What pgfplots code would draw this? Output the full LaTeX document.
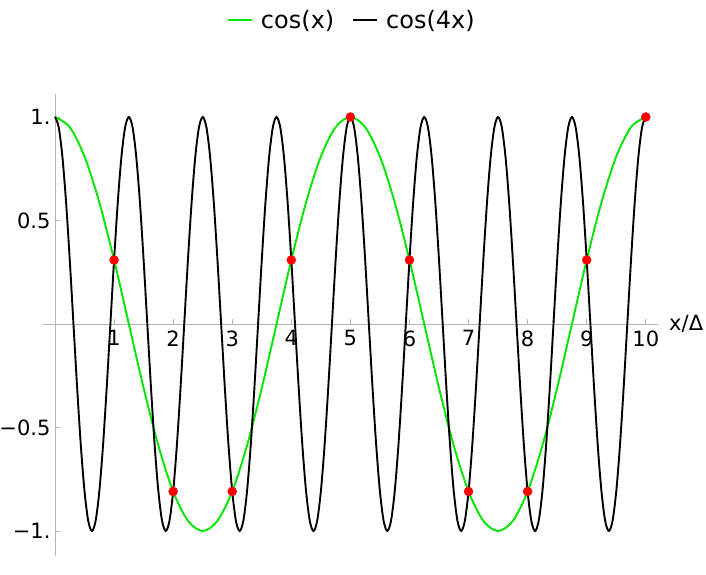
\documentclass[border=0pt]{standalone}
\usepackage{fontspec}
\setmainfont{DejaVu Sans}
\usepackage{pgfplots}
\pgfplotsset{compat=1.18}
\definecolor{axgray}{RGB}{180,180,180}
\definecolor{mgreen}{RGB}{0,230,0}
\begin{document}
\begin{tikzpicture}
\path[use as bounding box] (0,0) rectangle (706pt,574pt);
\begin{axis}[
  at={(55pt,250pt)}, anchor=origin,
  scale only axis, width=615pt, height=462pt,
  xmin=-0.21, xmax=10.2, ymin=-1.121, ymax=1.111,
  axis lines=middle,
  axis line style={-, draw=axgray, line width=0.8pt},
  clip=false,
  tick align=inside,
  major tick length=5pt,
  every tick/.style={draw=axgray, line width=0.8pt},
  xtick={1,2,3,4,5,6,7,8,9,10},
  xticklabels={1,2,3,4,5,6,7,8,9,10},
  ytick={-1,-0.5,0.5,1},
  yticklabels={−1.,−0.5,0.5,1.},
  tick label style={font=\fontsize{21}{25}\selectfont, text=black},
  xticklabel style={anchor=north, yshift=-3pt},
  yticklabel style={anchor=east, xshift=-1pt},
  xlabel={x/Δ},
  xlabel style={at={(current axis.right of origin)}, anchor=west, font=\fontsize{21}{25}\selectfont, xshift=8pt},
  legend style={at={(0.503,1.16)}, anchor=center, draw=none, fill=none,
    legend columns=2, font=\fontsize{24}{28}\selectfont,
    /tikz/every odd column/.append style={column sep=6pt},
    /tikz/every even column/.append style={column sep=16pt},
    legend cell align=left},
  legend image code/.code={\draw[#1] (0pt,0pt) -- (24pt,0pt);},
]
\addplot[mgreen, line width=1.9pt, smooth] coordinates {
(0,1)(0.25,0.95106)(0.5,0.80902)(0.75,0.58779)(1,0.30902)(1.25,0)(1.5,-0.30902)(1.75,-0.58779)(2,-0.80902)(2.25,-0.95106)(2.5,-1)(2.75,-0.95106)(3,-0.80902)(3.25,-0.58779)(3.5,-0.30902)(3.75,0)(4,0.30902)(4.25,0.58779)(4.5,0.80902)(4.75,0.95106)(5,1)(5.25,0.95106)(5.5,0.80902)(5.75,0.58779)(6,0.30902)(6.25,0)(6.5,-0.30902)(6.75,-0.58779)(7,-0.80902)(7.25,-0.95106)(7.5,-1)(7.75,-0.95106)(8,-0.80902)(8.25,-0.58779)(8.5,-0.30902)(8.75,0)(9,0.30902)(9.25,0.58779)(9.5,0.80902)(9.75,0.95106)(10,1)
};
\addlegendentry{cos(x)}
\addplot[black, line width=1.9pt, smooth] coordinates {
(0,1)(0.0625,0.95106)(0.125,0.80902)(0.1875,0.58779)(0.25,0.30902)(0.3125,0)(0.375,-0.30902)(0.4375,-0.58779)(0.5,-0.80902)(0.5625,-0.95106)(0.625,-1)(0.6875,-0.95106)(0.75,-0.80902)(0.8125,-0.58779)(0.875,-0.30902)(0.9375,0)(1,0.30902)(1.0625,0.58779)(1.125,0.80902)(1.1875,0.95106)
(1.25,1)(1.3125,0.95106)(1.375,0.80902)(1.4375,0.58779)(1.5,0.30902)(1.5625,0)(1.625,-0.30902)(1.6875,-0.58779)(1.75,-0.80902)(1.8125,-0.95106)(1.875,-1)(1.9375,-0.95106)(2,-0.80902)(2.0625,-0.58779)(2.125,-0.30902)(2.1875,0)(2.25,0.30902)(2.3125,0.58779)(2.375,0.80902)(2.4375,0.95106)
(2.5,1)(2.5625,0.95106)(2.625,0.80902)(2.6875,0.58779)(2.75,0.30902)(2.8125,0)(2.875,-0.30902)(2.9375,-0.58779)(3,-0.80902)(3.0625,-0.95106)(3.125,-1)(3.1875,-0.95106)(3.25,-0.80902)(3.3125,-0.58779)(3.375,-0.30902)(3.4375,0)(3.5,0.30902)(3.5625,0.58779)(3.625,0.80902)(3.6875,0.95106)
(3.75,1)(3.8125,0.95106)(3.875,0.80902)(3.9375,0.58779)(4,0.30902)(4.0625,0)(4.125,-0.30902)(4.1875,-0.58779)(4.25,-0.80902)(4.3125,-0.95106)(4.375,-1)(4.4375,-0.95106)(4.5,-0.80902)(4.5625,-0.58779)(4.625,-0.30902)(4.6875,0)(4.75,0.30902)(4.8125,0.58779)(4.875,0.80902)(4.9375,0.95106)
(5,1)(5.0625,0.95106)(5.125,0.80902)(5.1875,0.58779)(5.25,0.30902)(5.3125,0)(5.375,-0.30902)(5.4375,-0.58779)(5.5,-0.80902)(5.5625,-0.95106)(5.625,-1)(5.6875,-0.95106)(5.75,-0.80902)(5.8125,-0.58779)(5.875,-0.30902)(5.9375,0)(6,0.30902)(6.0625,0.58779)(6.125,0.80902)(6.1875,0.95106)
(6.25,1)(6.3125,0.95106)(6.375,0.80902)(6.4375,0.58779)(6.5,0.30902)(6.5625,0)(6.625,-0.30902)(6.6875,-0.58779)(6.75,-0.80902)(6.8125,-0.95106)(6.875,-1)(6.9375,-0.95106)(7,-0.80902)(7.0625,-0.58779)(7.125,-0.30902)(7.1875,0)(7.25,0.30902)(7.3125,0.58779)(7.375,0.80902)(7.4375,0.95106)
(7.5,1)(7.5625,0.95106)(7.625,0.80902)(7.6875,0.58779)(7.75,0.30902)(7.8125,0)(7.875,-0.30902)(7.9375,-0.58779)(8,-0.80902)(8.0625,-0.95106)(8.125,-1)(8.1875,-0.95106)(8.25,-0.80902)(8.3125,-0.58779)(8.375,-0.30902)(8.4375,0)(8.5,0.30902)(8.5625,0.58779)(8.625,0.80902)(8.6875,0.95106)
(8.75,1)(8.8125,0.95106)(8.875,0.80902)(8.9375,0.58779)(9,0.30902)(9.0625,0)(9.125,-0.30902)(9.1875,-0.58779)(9.25,-0.80902)(9.3125,-0.95106)(9.375,-1)(9.4375,-0.95106)(9.5,-0.80902)(9.5625,-0.58779)(9.625,-0.30902)(9.6875,0)(9.75,0.30902)(9.8125,0.58779)(9.875,0.80902)(9.9375,0.95106)
(10,1)
};
\addlegendentry{cos(4x)}
\addplot[only marks, mark=*, mark size=4.5pt, red, mark options={draw=red, fill=red}, forget plot] coordinates {
(1,0.30902)(2,-0.80902)(3,-0.80902)(4,0.30902)(5,1)(6,0.30902)(7,-0.80902)(8,-0.80902)(9,0.30902)(10,1)
};
\end{axis}
\end{tikzpicture}
\end{document}
